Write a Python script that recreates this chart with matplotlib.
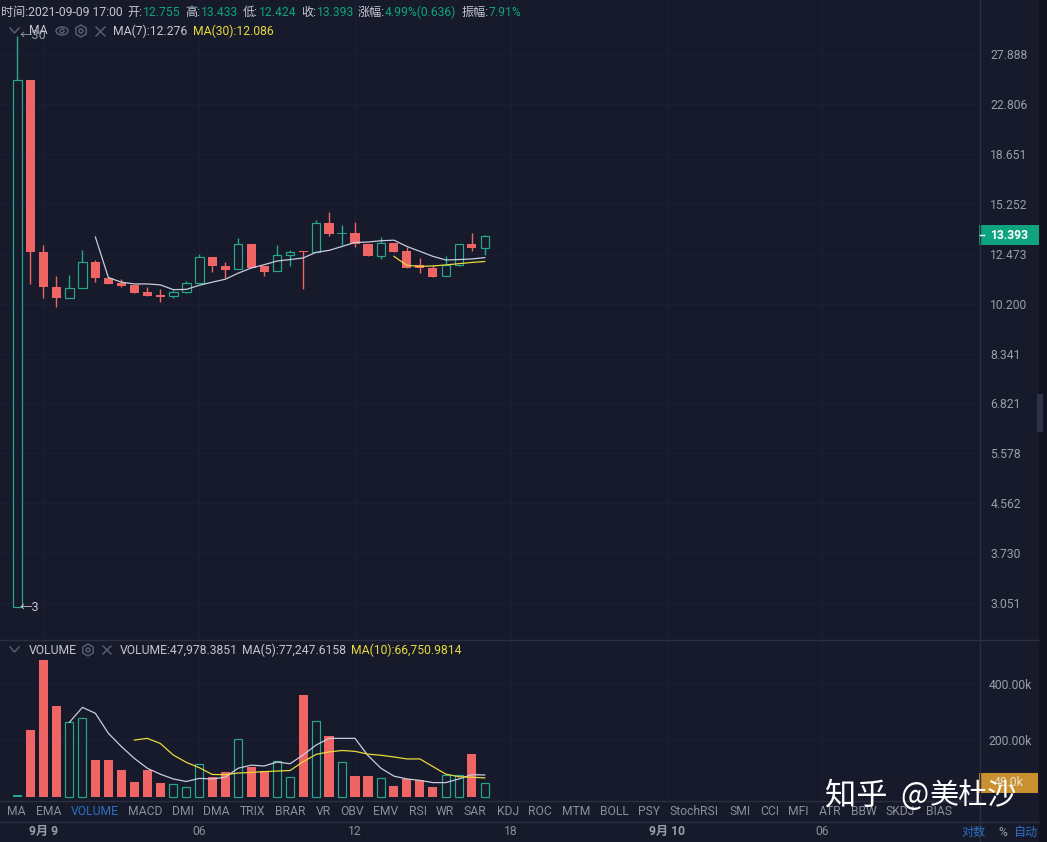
import matplotlib

matplotlib.use("Agg")
import matplotlib.pyplot as plt
from matplotlib.patches import Circle, Ellipse, Rectangle, RegularPolygon
from matplotlib.ticker import NullLocator

W, H = 1047, 842

BG = "#161A2B"
STRIP = "#11141F"
GRID = "#1B1F31"
EDGE = "#2B2F40"
RED = "#EF6464"
GREEN = "#27A78C"
TAG_GREEN = "#0FA37F"
TAG_ORANGE = "#C8902E"
INK = "#C3C6D2"
MUTED = "#8B8F9C"
TICK = "#9A9EAB"
YELLOW = "#E8DA3C"
LINE = "#C9CCDD"
BLUE = "#2F6FC4"
ICON = "#5D6272"
FONT = ["Roboto", "Noto Sans CJK SC", "DejaVu Sans"]

candle = list(range(37))
opens = [3.0, 25.1, 12.56, 10.92, 10.44, 10.86, 12.06, 11.31, 11.10, 10.98, 10.68, 10.54, 10.50, 10.69, 11.10,
         12.31, 11.88, 11.72, 12.97, 11.85, 11.62, 12.41, 12.62, 12.57, 14.12, 13.50, 13.57, 12.97, 12.34,
         13.02, 12.62, 11.90, 11.77, 11.38, 11.93, 12.99, 12.755]
closes = [25.1, 12.54, 10.90, 10.44, 10.86, 12.06, 11.31, 11.04, 10.93, 10.65, 10.52, 10.48, 10.67, 11.10, 12.31,
          11.88, 11.70, 12.97, 11.77, 11.60, 12.41, 12.57, 12.54, 14.12, 13.48, 13.57, 12.97, 12.34, 13.02,
          12.57, 11.79, 11.77, 11.37, 11.93, 12.99, 12.78, 13.393]
highs = [30.0, 25.1, 12.93, 11.41, 11.44, 12.67, 12.18, 11.33, 11.24, 10.98, 10.90, 10.80, 10.76, 11.15, 12.47,
         12.31, 12.04, 13.27, 12.99, 11.88, 12.93, 12.64, 12.62, 14.27, 14.73, 14.02, 14.15, 12.97, 13.34,
         13.02, 12.79, 12.26, 11.90, 12.34, 12.99, 13.56, 13.433]
lows = [3.0, 11.02, 10.43, 10.05, 10.44, 10.86, 11.14, 11.04, 10.90, 10.65, 10.52, 10.28, 10.42, 10.64, 11.07,
        11.60, 11.31, 11.72, 11.77, 11.41, 11.62, 11.85, 10.83, 12.57, 13.37, 12.93, 12.79, 12.34, 12.23,
        12.57, 11.79, 11.53, 11.37, 11.38, 11.85, 12.62, 12.424]
ma7_start = 6
ma7 = [13.34, 11.33, 11.12, 11.04, 11.04, 11.00, 10.79, 10.80, 10.98, 11.12, 11.25, 11.53, 11.77, 11.93, 12.11,
       12.18, 12.26, 12.54, 12.64, 12.84, 13.05, 13.07, 13.14, 13.17, 12.84, 12.59, 12.34, 12.16, 12.18, 12.21,
       12.276]
ma30_start = 29
ma30 = [12.34, 11.90, 11.85, 11.87, 11.92, 11.98, 12.04, 12.086]

volume = [6, 237, 485, 322, 264, 278, 130, 130, 95, 52, 95, 49, 44, 34, 115, 70, 88, 204, 107, 92, 125, 69, 361,
          267, 215, 122, 73, 73, 65, 38, 62, 58, 34, 78, 78, 151, 47.98]
vol_ma5_start = 4
vol_ma5 = [264, 317, 296, 225, 178, 136, 101, 80, 63, 54, 65, 63, 69, 101, 112, 109, 123, 117, 148, 183, 207, 207,
           207, 146, 101, 73, 63, 58, 50, 50, 63, 78, 77.25]
vol_ma10_start = 9
vol_ma10 = [201, 207, 189, 148, 122, 103, 79, 78, 84, 86, 89, 91, 93, 124, 150, 159, 164, 161, 151, 147, 141, 134,
            134, 107, 80, 71, 69, 66.75]

price_ticks = [27.888, 22.806, 18.651, 15.252, 12.473, 10.200, 8.341, 6.821, 5.578, 4.562, 3.730, 3.051]
vol_ticks = [200, 400]
time_ticks = [2, 14, 26, 38, 50, 62]
time_labels = ["9月 9", "06", "12", "18", "9月 10", "06"]
tabs = ["MA", "EMA", "VOLUME", "MACD", "DMI", "DMA", "TRIX", "BRAR", "VR", "OBV", "EMV", "RSI", "WR", "SAR", "KDJ",
        "ROC", "MTM", "BOLL", "PSY", "StochRSI", "SMI", "CCI", "MFI", "ATR", "BBW", "SKDJ", "BIAS"]
tab_x = [7.5, 36, 71, 128, 172, 203.5, 240, 275.5, 315.5, 340, 373.5, 408.5, 436, 464, 496.5,
         528, 562, 600, 638, 670, 729, 760, 788, 819, 851, 886, 926]

plt.rcParams["font.family"] = FONT
plt.rcParams["font.size"] = 8.7

fig = plt.figure(figsize=(W / 100, H / 100), dpi=100, facecolor=BG)


def box(left, top, right, bottom):
    return [left / W, 1 - bottom / H, (right - left) / W, (bottom - top) / H]


ax = fig.add_axes(box(0, 0, 980, 640), facecolor=BG)
vol = fig.add_axes(box(0, 640, 980, 800), facecolor=BG)

for a in (ax, vol):
    a.set_xlim(-1.348, 74.15)
    a.spines[:].set_visible(False)
    a.set_xticks(time_ticks)
    a.grid(True, color=GRID, linewidth=1)
    a.set_axisbelow(True)
    a.yaxis.tick_right()

ax.set_yscale("log")
ax.set_ylim(2.629, 34.67)
ax.set_yticks(price_ticks, [f"{v:.3f}" for v in price_ticks])
ax.yaxis.set_minor_locator(NullLocator())
ax.tick_params(axis="y", length=0, pad=7.5, labelcolor=TICK, labelsize=8.7)
ax.tick_params(axis="x", length=0, labelbottom=False)

for i, o, c, hi, lo in zip(candle, opens, closes, highs, lows):
    up = c >= o
    color = GREEN if up else RED
    doji = i == 25
    ax.vlines(i, lo, hi, color=color, linewidth=1.0, zorder=2)
    if up and not doji:
        ax.bar(i, c - o, bottom=o, width=0.66, facecolor=BG, edgecolor=color, linewidth=0.85, zorder=3)
    else:
        face = GREEN if doji else RED
        ax.bar(i, abs(c - o), bottom=min(o, c), width=0.7, color=face, linewidth=0, zorder=3)

ax.plot(candle[ma7_start:], ma7, color=LINE, linewidth=0.9, zorder=4)
ax.plot(candle[ma30_start:], ma30, color=YELLOW, linewidth=0.9, zorder=5)

ax.text(0.18, 30, "←30", color=TICK, va="center", fontsize=9)
ax.text(0.18, 3, "←3", color=INK, va="center", fontsize=9)

vol.set_ylim(-11.7, 556)
vol.set_yticks(vol_ticks, [f"{v:.2f}k" for v in vol_ticks])
vol.tick_params(axis="y", length=0, pad=6, labelcolor=TICK, labelsize=8.7)
vol.tick_params(axis="x", length=0, pad=18, labelcolor=MUTED, labelsize=8.7)
vol.set_xticklabels(time_labels)
for label in vol.get_xticklabels():
    if "月" in label.get_text():
        label.set_fontweight("bold")
        label.set_color(TICK)

for i, v, o, c in zip(candle, volume, opens, closes):
    if i == 0:
        vol.bar(i, v, width=0.7, color=GREEN, linewidth=0, zorder=3)
    elif c >= o:
        vol.bar(i, v, width=0.62, facecolor=BG, edgecolor=GREEN, linewidth=0.85, zorder=3)
    else:
        vol.bar(i, v, width=0.7, color=RED, linewidth=0, zorder=3)

vol.plot(candle[vol_ma5_start:], vol_ma5, color=LINE, linewidth=0.9, zorder=4)
vol.plot(candle[vol_ma10_start:], vol_ma10, color=YELLOW, linewidth=0.9, zorder=5)

# window chrome drawn in pixel coordinates on top of the chart
ui = fig.add_axes([0, 0, 1, 1], facecolor="none")
ui.set_xlim(0, W)
ui.set_ylim(H, 0)
ui.axis("off")


def put(x, y, text, color=INK, **kw):
    kw.setdefault("fontsize", 8.7)
    ui.text(x, y, text, color=color, va="center", ha=kw.pop("ha", "left"), **kw)


ui.add_patch(Rectangle((1039, 0), 8, H, color=STRIP, linewidth=0))
ui.add_patch(Rectangle((1037, 394), 6, 38, color="#2C3148", linewidth=0))
ui.plot([0, 1039], [640, 640], color=EDGE, linewidth=1)
ui.plot([0, 980], [801, 801], color=EDGE, linewidth=1)
ui.plot([0, 1039], [822, 822], color=EDGE, linewidth=1)
ui.plot([980, 980], [0, H], color=EDGE, linewidth=1)

put(1, 12.5, "时间:2021-09-09 17:00")
for x, label, vx, value in [(127.5, "开:", 142.5, "12.755"), (185, "高:", 200.5, "13.433"),
                            (242.5, "低:", 258.5, "12.424"), (301.5, "收:", 317, "13.393"),
                            (357.5, "涨幅:", 385, "4.99%(0.636)"), (461.5, "振幅:", 489, "7.91%")]:
    put(x, 12.5, label)
    put(vx, 12.5, value, color=TAG_GREEN)

ui.plot([10, 14.5, 19], [28, 33, 28], color=ICON, linewidth=1)
put(29, 31, "MA")
ui.add_patch(Ellipse((62, 31), 12, 8, fill=False, edgecolor=ICON, linewidth=1))
ui.add_patch(Circle((62, 31), 2, fill=False, edgecolor=ICON, linewidth=1))
ui.add_patch(RegularPolygon((81, 31), 6, radius=6, fill=False, edgecolor=ICON, linewidth=1))
ui.add_patch(Circle((81, 31), 2, fill=False, edgecolor=ICON, linewidth=1))
ui.plot([96, 105], [27, 36], color=ICON, linewidth=1)
ui.plot([96, 105], [36, 27], color=ICON, linewidth=1)
put(113, 31, "MA(7):12.276")
put(192.5, 31, "MA(30):12.086", color=YELLOW)

ui.plot([10, 14.5, 19], [647, 652, 647], color=ICON, linewidth=1)
put(29, 650, "VOLUME")
ui.add_patch(RegularPolygon((88, 650), 6, radius=6, fill=False, edgecolor=ICON, linewidth=1))
ui.add_patch(Circle((88, 650), 2, fill=False, edgecolor=ICON, linewidth=1))
ui.plot([103, 111], [646, 654], color=ICON, linewidth=1)
ui.plot([103, 111], [654, 646], color=ICON, linewidth=1)
put(120, 650, "VOLUME:47,978.3851")
put(242, 650, "MA(5):77,247.6158")
put(351, 650, "MA(10):66,750.9814", color=YELLOW)

for x, label in zip(tab_x, tabs):
    put(x, 811.5, label, color=BLUE if label == "VOLUME" else MUTED)

put(961, 832, "对数", color=BLUE)
put(998, 832, "%", color=TICK)
put(1013, 832, "自动", color=BLUE)

ui.add_patch(Rectangle((979, 225), 60, 20, color=TAG_GREEN, linewidth=0))
ui.plot([980, 984], [235, 235], color="white", linewidth=1)
put(1009, 235.5, "13.393", color="white", ha="center", fontweight="bold")
ui.add_patch(Rectangle((979, 773), 59, 20, color=TAG_ORANGE, linewidth=0))
put(1009, 783, "48.0k", color="#E8E2D0", ha="center")

CJK = ["Noto Sans CJK SC", "DejaVu Sans"]
put(825, 796, "知乎", color="white", fontsize=22.5, family=CJK)
put(900, 796, "@", color="white", fontsize=21.5, family=CJK)
put(930, 796, "美杜沙", color="white", fontsize=21, family=CJK)

fig.savefig("out.png", dpi=100, facecolor=BG)
